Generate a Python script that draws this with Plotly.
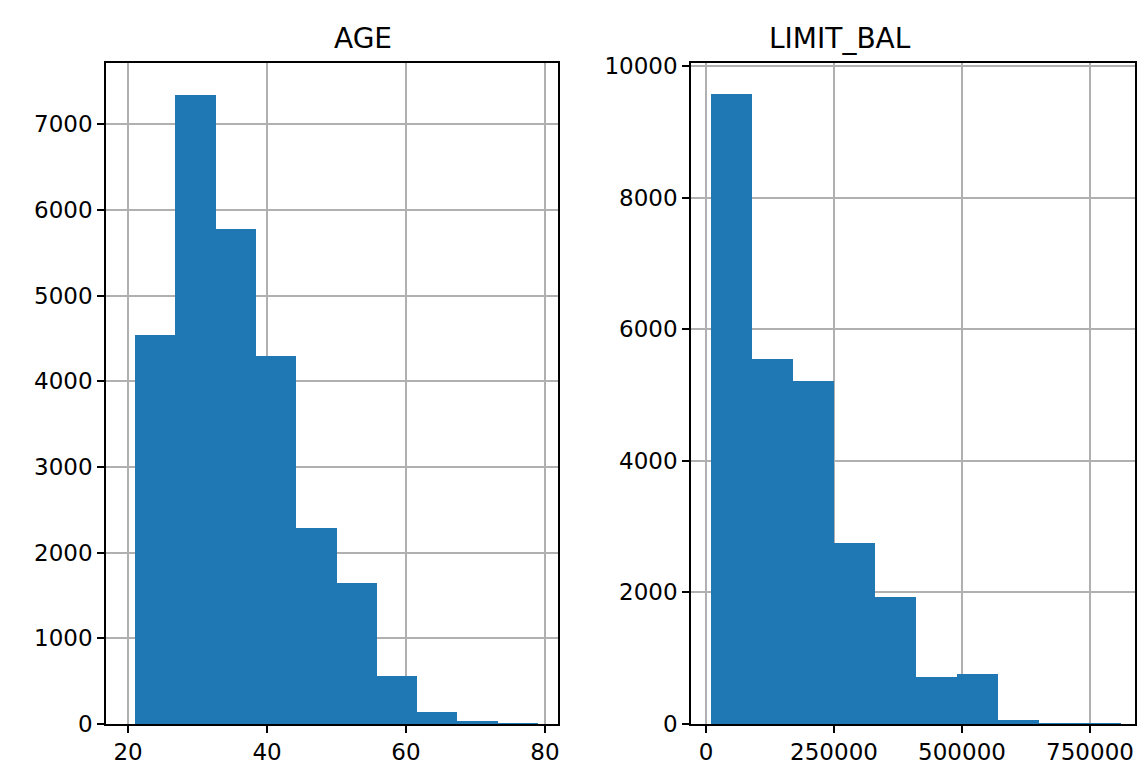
import numpy as np
import plotly.graph_objects as go

# values (10 bins each)
age_min, age_max = 21, 79
age_counts = [4540, 7340, 5780, 4290, 2290, 1640, 560, 140, 30, 5]
bal_min, bal_max = 10000, 810000
bal_counts = [9570, 5540, 5220, 2750, 1930, 720, 760, 60, 10, 2]

def bars(lo, hi, counts, xa, ya):
    edges = np.linspace(lo, hi, len(counts) + 1)
    centers = (edges[:-1] + edges[1:]) / 2
    return go.Bar(x=centers, y=counts, width=edges[1] - edges[0],
                  marker=dict(color="#1f77b4", line=dict(width=0)),
                  xaxis=xa, yaxis=ya, showlegend=False)

fig = go.Figure([bars(age_min, age_max, age_counts, "x", "y"),
                 bars(bal_min, bal_max, bal_counts, "x2", "y2")])

W, H = 1146, 772
ydom = [1 - 716 / H, 1 - 55 / H]
ax = dict(showline=True, linecolor="black", linewidth=1.5, mirror=True,
          ticks="outside", ticklen=7, tickwidth=1.5, tickcolor="black",
          showgrid=True, gridcolor="#b0b0b0", gridwidth=1.5, zeroline=False,
          automargin=False, tickfont=dict(size=23, color="black"))

fig.update_layout(
    width=W, height=H, margin=dict(l=0, r=0, t=0, b=0),
    plot_bgcolor="white", paper_bgcolor="white", bargap=0,
    font=dict(family="DejaVu Sans", color="black"),
    xaxis=dict(ax, domain=[98 / W, 550 / W], range=[16.83, 81.87],
               tickvals=[20, 40, 60, 80]),
    yaxis=dict(ax, domain=ydom, range=[0, 7713],
               tickvals=list(range(0, 8000, 1000))),
    xaxis2=dict(ax, domain=[683 / W, 1127 / W], range=[-29300, 837900],
                tickvals=[0, 250000, 500000, 750000], tickformat="d",
                anchor="y2"),
    yaxis2=dict(ax, domain=ydom, range=[0, 10045],
                tickvals=list(range(0, 10001, 2000)), tickformat="d",
                anchor="x2"),
    annotations=[
        dict(text="AGE", x=(98 + 550) / 2 / W, y=ydom[1], xref="paper",
             yref="paper", yanchor="bottom", yshift=6, showarrow=False,
             font=dict(size=28)),
        dict(text="LIMIT_BAL", x=(683 + 1127) / 2 / W, y=ydom[1],
             xref="paper", yref="paper", yanchor="bottom", yshift=6,
             showarrow=False, font=dict(size=28)),
    ],
)

fig.write_html("out.html")
